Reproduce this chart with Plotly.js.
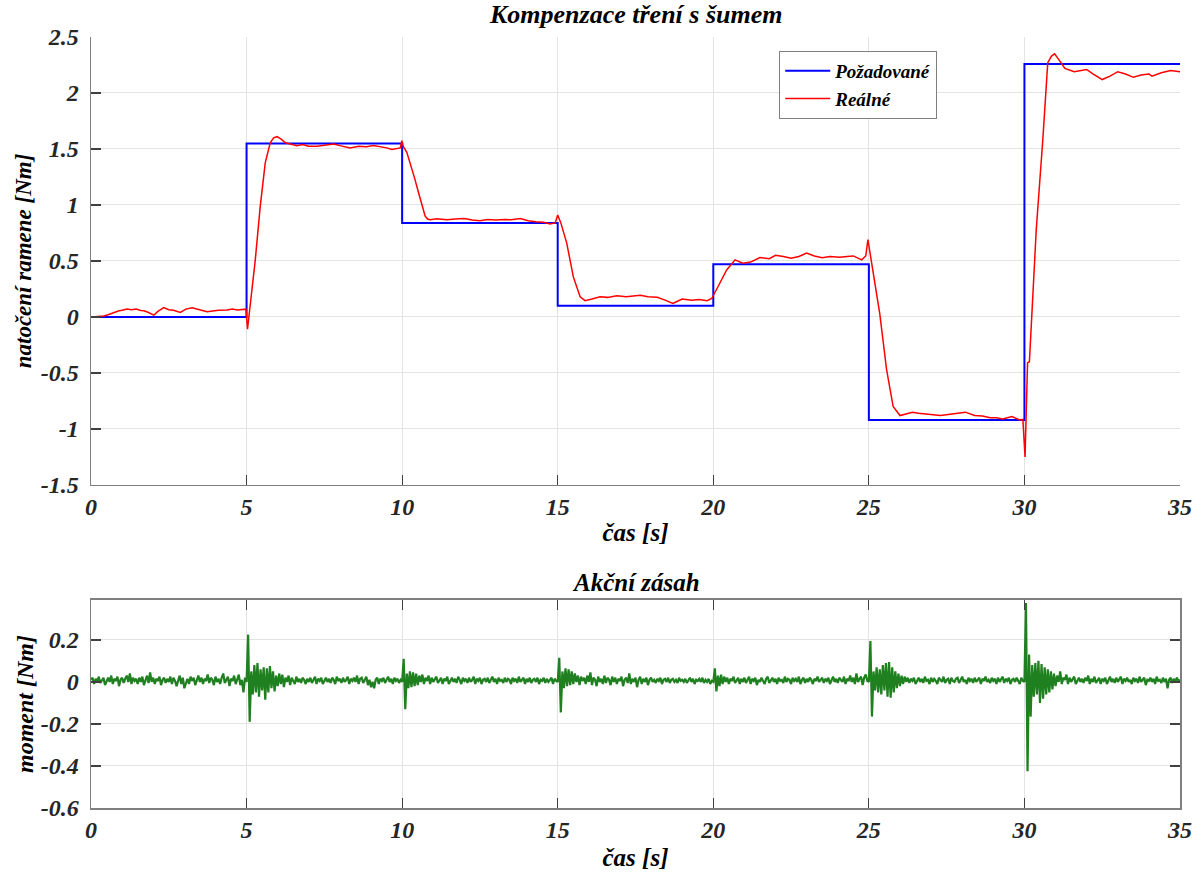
<!DOCTYPE html>
<html>
<head>
<meta charset="utf-8">
<script src="https://cdn.plot.ly/plotly-3.0.1.min.js"></script>
<style>html,body{margin:0;padding:0;background:#fff;}#chart{width:1201px;height:876px;}</style>
</head>
<body>
<div id="chart"></div>
<script>
// ---- Data ----
const refTime = [0, 5, 10, 15, 20, 25, 30, 35];
const refValue = [0, 1.55, 0.84, 0.10, 0.47, -0.92, 2.26, 2.26];

const realTime = [0,0.2,0.41,0.55,0.73,0.9,1.0,1.16,1.3,1.45,1.6,1.7,1.85,2.02,2.15,2.34,2.5,2.65,2.87,3.05,3.25,3.4,3.55,3.73,3.9,4.1,4.37,4.55,4.7,4.9,4.98,
5.03,5.12,5.28,5.44,5.6,5.76,5.87,5.98,6.1,6.25,6.4,6.62,6.8,7.0,7.26,7.5,7.8,8.0,8.33,8.6,8.85,9.08,9.3,9.5,9.67,9.85,9.94,
9.99,10.04,10.15,10.26,10.4,10.53,10.65,10.74,10.82,10.9,11.12,11.3,11.44,11.7,12.0,12.25,12.5,12.75,13.0,13.3,13.5,13.8,14.05,14.3,14.55,14.75,14.92,
15.0,15.1,15.29,15.5,15.72,15.88,16.1,16.36,16.6,16.9,17.2,17.45,17.65,17.9,18.2,18.45,18.7,18.85,19.0,19.3,19.55,19.8,19.95,
20.15,20.43,20.7,20.95,21.2,21.5,21.8,22.0,22.25,22.5,22.75,23.0,23.25,23.5,23.75,24.06,24.3,24.5,24.77,24.9,
24.97,25.09,25.35,25.57,25.78,26.0,26.15,26.4,26.6,27.0,27.3,27.55,27.8,28.1,28.4,28.65,28.9,29.1,29.3,29.6,29.85,29.95,
30.02,30.1,30.16,30.26,30.38,30.59,30.75,30.87,30.97,31.1,31.3,31.6,31.85,32.0,32.2,32.5,32.75,33.0,33.25,33.5,33.75,34.0,34.1,34.4,34.7,35.0];
const realValue = [0,0.005,0.008,0.02,0.04,0.055,0.06,0.07,0.065,0.07,0.058,0.056,0.04,0.017,0.05,0.083,0.065,0.06,0.04,0.07,0.083,0.068,0.06,0.047,0.055,0.06,0.062,0.07,0.062,0.068,0.07,
-0.11,0.107,0.51,0.99,1.376,1.555,1.6,1.61,1.59,1.555,1.545,1.53,1.54,1.525,1.524,1.535,1.545,1.53,1.51,1.525,1.52,1.53,1.52,1.51,1.495,1.505,1.51,
1.575,1.52,1.47,1.376,1.24,1.107,0.98,0.90,0.875,0.868,0.877,0.87,0.868,0.875,0.88,0.865,0.86,0.87,0.865,0.87,0.868,0.88,0.86,0.85,0.845,0.83,0.84,
0.91,0.84,0.66,0.36,0.18,0.146,0.16,0.18,0.175,0.19,0.18,0.19,0.194,0.18,0.176,0.15,0.12,0.14,0.16,0.15,0.155,0.146,0.165,
0.27,0.42,0.51,0.48,0.49,0.53,0.52,0.55,0.54,0.525,0.54,0.57,0.545,0.53,0.54,0.534,0.54,0.545,0.51,0.545,
0.69,0.48,0.03,-0.47,-0.80,-0.88,-0.87,-0.85,-0.86,-0.875,-0.88,-0.87,-0.86,-0.85,-0.88,-0.885,-0.9,-0.9,-0.91,-0.89,-0.92,-0.915,
-1.25,-0.41,-0.40,0.18,0.78,1.58,2.27,2.33,2.35,2.3,2.22,2.19,2.2,2.21,2.17,2.12,2.15,2.19,2.17,2.14,2.16,2.17,2.15,2.18,2.2,2.19];

// Control action (moment), sampled every 0.05 s, one array per 5 s block
const momentDt = 0.05;
const moment0to5 = [0.01,0.02,-0.01,0.015,0.0,0.025,-0.005,0.01,0.02,-0.015,
0.005,0.02,0.0,0.03,-0.01,0.015,0.005,0.025,-0.02,0.01,
0.02,-0.005,0.015,0.03,0.0,0.04,-0.01,0.02,0.005,0.015,
-0.01,0.02,0.0,0.025,-0.015,0.01,0.03,-0.005,0.045,0.0,
0.02,-0.01,0.015,0.005,0.025,-0.015,0.01,0.02,-0.005,0.015,
0.0,0.025,-0.01,0.02,0.005,-0.02,0.01,0.03,-0.01,0.02,
-0.03,0.0,0.015,-0.01,0.025,0.005,0.02,-0.015,0.01,0.03,
0.0,0.02,-0.01,0.015,0.005,0.035,-0.005,0.02,0.01,-0.015,
0.025,0.0,0.015,-0.01,0.02,0.04,-0.005,0.01,0.025,-0.02,
0.015,0.005,0.03,-0.01,0.02,0.035,-0.015,0.01,-0.05,0.02];
const moment5to10 = [0.0,0.225,-0.19,0.05,-0.06,0.08,-0.05,0.09,-0.07,0.06,
-0.04,0.07,-0.085,0.065,-0.05,0.075,-0.03,0.05,-0.045,0.03,
-0.02,0.04,-0.01,0.035,-0.025,0.02,0.0,0.03,-0.015,0.02,
0.005,-0.01,0.025,0.0,0.015,-0.005,0.02,0.01,-0.01,0.015,
0.0,0.02,-0.005,0.01,0.025,-0.01,0.015,0.005,0.02,-0.01,
0.01,0.02,0.0,0.015,-0.005,0.02,0.01,-0.01,0.025,0.005,
0.015,-0.005,0.02,0.0,0.01,0.025,-0.01,0.015,0.005,0.02,
0.0,0.03,-0.01,0.015,0.02,-0.005,0.01,0.025,-0.015,0.01,
-0.025,0.0,-0.03,0.01,0.02,-0.01,0.015,0.005,0.02,-0.005,
0.01,0.025,0.0,0.015,-0.01,0.02,0.005,0.015,-0.005,0.01];
const moment10to15 = [0.0,0.11,-0.13,0.04,-0.03,0.05,-0.025,0.045,-0.02,0.04,
-0.015,0.03,0.0,0.035,-0.01,0.02,0.005,0.03,-0.01,0.02,
0.0,0.015,0.025,-0.005,0.01,0.02,-0.01,0.015,0.005,0.025,
-0.01,0.01,0.02,0.0,0.015,-0.005,0.025,0.01,-0.01,0.02,
0.005,0.015,-0.005,0.02,0.0,0.01,0.025,-0.01,0.015,0.005,
0.02,-0.01,0.01,0.015,0.0,0.02,-0.005,0.01,0.025,0.0,
0.015,-0.01,0.02,0.005,0.01,-0.005,0.02,0.0,0.015,0.01,
-0.01,0.02,0.005,0.015,-0.005,0.025,0.0,0.01,0.02,-0.01,
0.015,0.0,0.02,-0.005,0.01,0.015,0.0,0.02,-0.01,0.01,
0.005,0.02,-0.005,0.015,0.0,0.01,0.02,-0.01,0.015,0.005];
const moment15to20 = [0.0,0.115,-0.145,0.05,-0.03,0.065,-0.02,0.06,-0.015,0.05,
-0.01,0.04,0.0,0.03,-0.015,0.025,0.005,0.02,-0.01,0.03,
0.0,0.045,-0.015,0.02,0.01,-0.02,0.025,0.0,0.015,-0.01,
0.03,-0.005,0.02,0.01,-0.015,0.025,0.0,0.02,-0.01,0.015,
0.005,0.025,-0.02,0.01,0.02,-0.005,0.04,-0.01,0.015,0.0,
0.02,-0.025,0.01,0.025,-0.01,0.015,0.0,0.02,-0.015,0.01,
0.02,0.0,0.01,-0.005,0.015,0.005,0.02,-0.01,0.01,0.015,
0.0,0.02,-0.005,0.01,0.015,0.0,0.01,-0.005,0.02,0.005,
0.01,0.0,0.015,-0.005,0.01,0.02,0.0,0.015,-0.01,0.01,
0.005,0.015,0.0,0.02,-0.005,0.01,0.0,0.015,-0.01,0.005];
const moment20to25 = [0.0,0.065,-0.045,0.03,-0.02,0.035,-0.01,0.025,0.0,0.02,
-0.01,0.015,0.005,0.025,-0.005,0.01,0.02,-0.01,0.015,0.0,
0.02,-0.005,0.01,0.025,-0.01,0.015,0.005,0.02,-0.015,0.01,
0.0,0.02,0.005,-0.01,0.015,0.025,-0.005,0.01,0.02,0.0,
0.015,-0.01,0.02,0.005,0.01,-0.005,0.025,0.0,0.015,0.01,
-0.01,0.02,0.005,0.015,0.0,0.025,-0.01,0.01,0.02,-0.005,
0.015,0.0,0.02,0.01,-0.01,0.015,0.005,0.025,0.0,0.01,
0.02,-0.005,0.015,0.005,0.02,-0.01,0.01,0.025,0.0,0.015,
-0.005,0.02,0.01,0.0,0.025,-0.01,0.015,0.005,0.03,0.0,
0.02,-0.01,0.04,0.0,0.015,0.025,-0.015,0.02,0.035,0.005];
const moment25to30 = [0.0,0.195,-0.165,0.05,-0.04,0.07,-0.05,0.06,-0.06,0.08,
-0.04,0.09,-0.07,0.095,-0.075,0.07,-0.05,0.05,-0.03,0.04,
-0.02,0.03,-0.01,0.025,0.0,0.02,-0.005,0.015,0.005,0.02,
-0.01,0.01,0.02,0.0,0.015,-0.005,0.025,0.005,0.01,-0.01,
0.02,0.0,0.015,0.005,-0.01,0.02,0.01,0.0,0.025,-0.005,
0.01,0.015,-0.01,0.02,0.005,0.0,0.015,0.02,-0.005,0.01,
0.025,0.0,0.01,-0.01,0.02,0.005,0.015,-0.005,0.02,0.0,
0.01,0.02,-0.01,0.015,0.005,0.025,0.0,0.01,-0.005,0.02,
0.005,0.015,-0.01,0.02,0.0,0.01,0.025,-0.005,0.015,0.005,
0.02,-0.01,0.01,0.015,0.0,0.02,0.005,-0.01,0.02,0.005];
const moment30to35 = [0.0,0.375,-0.425,0.13,-0.165,0.08,-0.07,0.09,-0.06,0.1,
-0.1,0.085,-0.08,0.07,-0.06,0.06,-0.05,0.05,-0.035,0.04,
-0.02,0.03,0.0,0.05,-0.01,0.02,0.01,0.035,-0.01,0.02,
0.0,0.015,0.025,-0.01,0.01,0.02,0.0,0.015,-0.005,0.02,
0.005,0.03,-0.01,0.015,0.0,0.025,-0.005,0.01,0.02,-0.01,
0.015,0.005,0.02,-0.01,0.01,0.025,0.0,0.015,-0.005,0.02,
0.0,0.01,0.025,-0.01,0.015,0.005,0.02,0.0,0.01,-0.01,
0.02,0.005,0.015,-0.005,0.025,0.0,0.01,0.02,-0.015,0.01,
0.005,0.02,0.0,0.015,-0.01,0.025,0.005,0.01,-0.005,0.02,
0.0,0.015,-0.03,0.01,0.02,-0.005,0.015,0.0,0.02,0.005,
0.01];

const xTickVals = [0, 5, 10, 15, 20, 25, 30, 35];
const xTickText = ['0', '5', '10', '15', '20', '25', '30', '35'];
const y1TickVals = [-1.5, -1, -0.5, 0, 0.5, 1, 1.5, 2, 2.5];
const y1TickText = ['-1.5', '-1', '-0.5', '0', '0.5', '1', '1.5', '2', '2.5'];
const y2TickVals = [-0.6, -0.4, -0.2, 0, 0.2];
const y2TickText = ['-0.6', '-0.4', '-0.2', '0', '0.2'];

const topTitle = 'Kompenzace tření s šumem';
const bottomTitle = 'Akční zásah';
const xTitle = 'čas [s]';
const y1Title = 'natočení ramene [Nm]';
const y2Title = 'moment [Nm]';
const refName = 'Požadované';
const realName = 'Reálné';

// ---- Build ----
const moment = [].concat(moment0to5, moment5to10, moment10to15, moment15to20, moment20to25, moment25to30, moment30to35);
const momentTime = moment.map((_, i) => Math.round(i * momentDt * 100) / 100);

const FONT = "'Liberation Serif', 'Times New Roman', Times, serif";
const tf = (size) => ({family: FONT, size: size, color: '#262626', weight: 'bold', style: 'italic'});
const tfBlack = (size) => ({family: FONT, size: size, color: '#000', weight: 'bold', style: 'italic'});

const traces = [
  {x: refTime, y: refValue, type: 'scatter', mode: 'lines', line: {shape: 'hv', color: '#0000ff', width: 2}, name: refName, xaxis: 'x', yaxis: 'y'},
  {x: realTime, y: realValue, type: 'scatter', mode: 'lines', line: {color: '#ff0000', width: 1.5}, name: realName, xaxis: 'x', yaxis: 'y'},
  {x: momentTime, y: moment, type: 'scatter', mode: 'lines', line: {color: '#1f801f', width: 2.2}, showlegend: false, xaxis: 'x2', yaxis: 'y2'}
];

const axCommon = {
  showline: true, linecolor: '#7f7f7f', linewidth: 1.5,
  ticks: 'inside', ticklen: 10, tickwidth: 1.2, tickcolor: '#404040',
  showgrid: true, gridcolor: '#e3e3e3', gridwidth: 1,
  zeroline: false, tickfont: tf(24)
};

const layout = {
  width: 1201, height: 876,
  paper_bgcolor: '#ffffff', plot_bgcolor: '#ffffff',
  margin: {l: 91, r: 21, t: 37, b: 68},
  showlegend: true,
  legend: {
    x: 0.632, y: 0.982, xanchor: 'left', yanchor: 'top',
    bgcolor: '#ffffff', bordercolor: '#808080', borderwidth: 1,
    font: tfBlack(19), tracegroupgap: 0, itemwidth: 45
  },
  xaxis: Object.assign({}, axCommon, {
    domain: [0, 1], anchor: 'y', range: [0, 35], tickvals: xTickVals, ticktext: xTickText,
    title: {text: xTitle, font: tfBlack(25), standoff: 4}
  }),
  yaxis: Object.assign({}, axCommon, {
    domain: [0.419, 1], anchor: 'x', range: [-1.5, 2.5], tickvals: y1TickVals, ticktext: y1TickText,
    ticklabelstandoff: 6,
    title: {text: y1Title, font: tfBlack(23), standoff: 2}
  }),
  xaxis2: Object.assign({}, axCommon, {
    domain: [0, 1], anchor: 'y2', range: [0, 35], tickvals: xTickVals, ticktext: xTickText, mirror: 'ticks',
    title: {text: xTitle, font: tfBlack(25), standoff: 6}
  }),
  yaxis2: Object.assign({}, axCommon, {
    domain: [0, 0.2698], anchor: 'x2', range: [-0.6, 0.39], tickvals: y2TickVals, ticktext: y2TickText, mirror: 'ticks',
    ticklabelstandoff: 6,
    title: {text: y2Title, font: tfBlack(24), standoff: 0}
  }),
  annotations: [
    {text: topTitle, xref: 'paper', yref: 'paper', x: 0.5, y: 1, yshift: 6, xanchor: 'center', yanchor: 'bottom', showarrow: false, font: tfBlack(26)},
    {text: bottomTitle, xref: 'paper', yref: 'paper', x: 0.5, y: 0.2698, yshift: 2, xanchor: 'center', yanchor: 'bottom', showarrow: false, font: tfBlack(25)}
  ]
};

Plotly.newPlot('chart', traces, layout, {displayModeBar: false, staticPlot: true});
</script>
</body>
</html>
